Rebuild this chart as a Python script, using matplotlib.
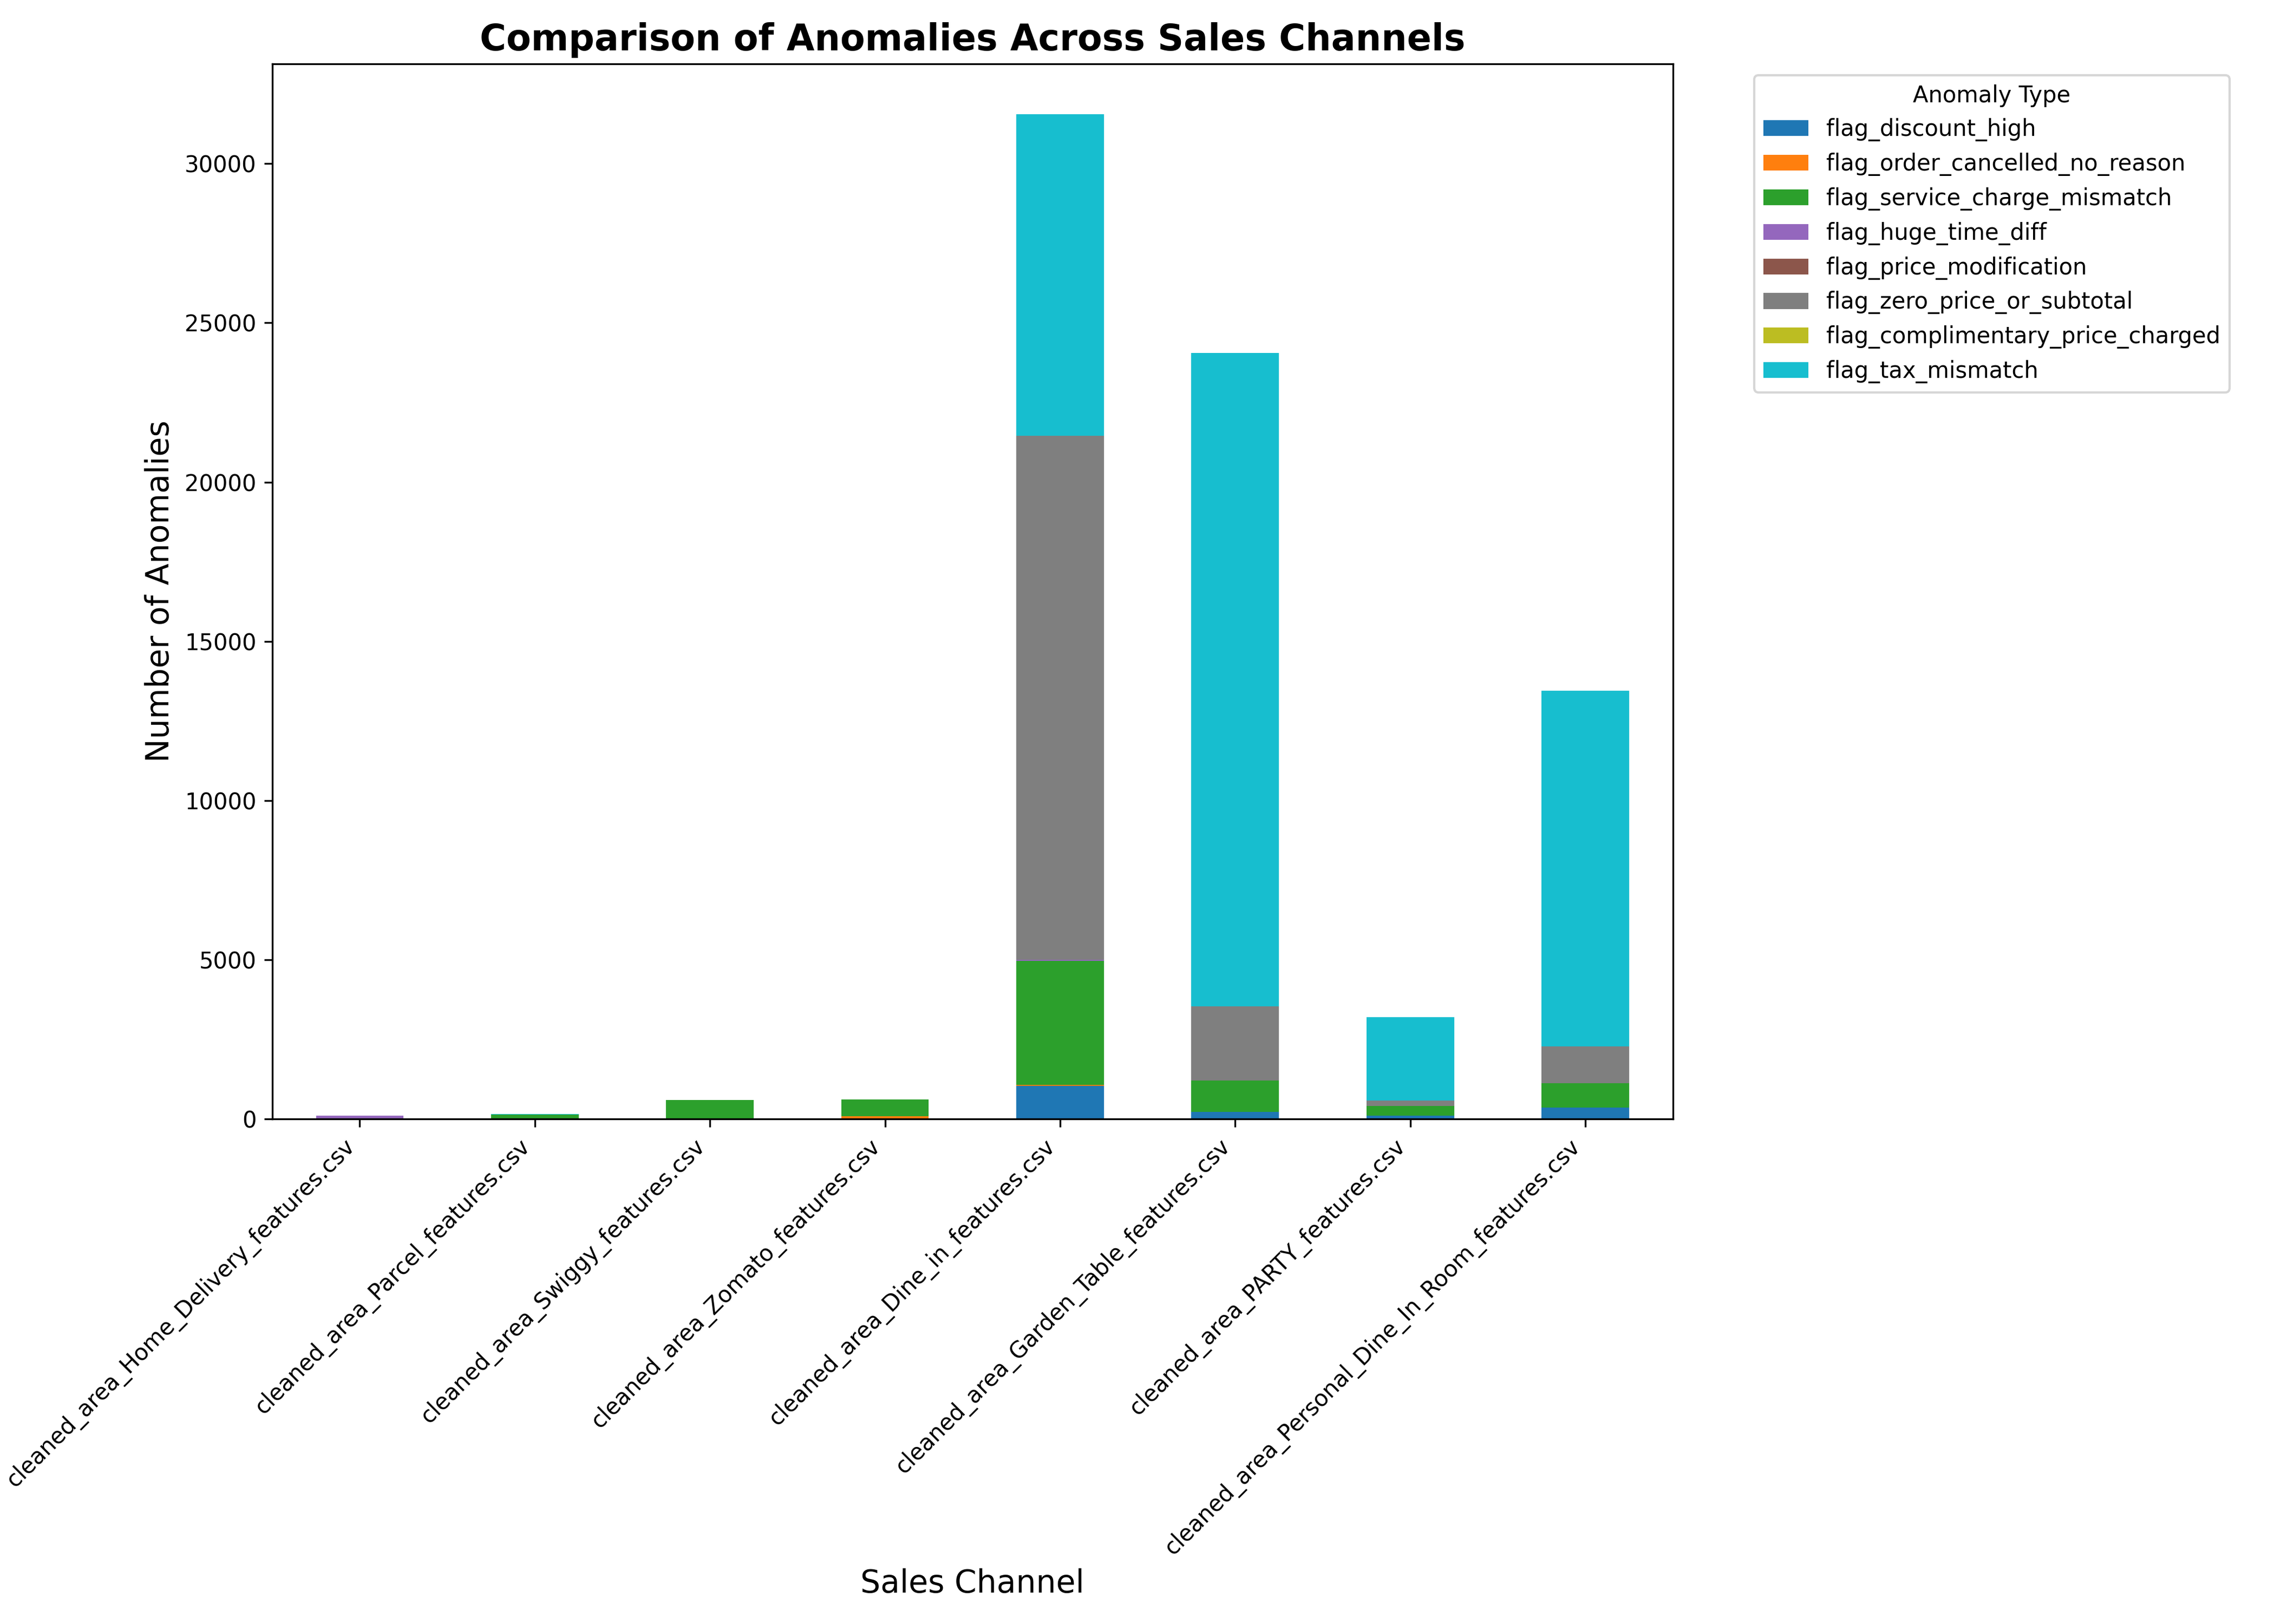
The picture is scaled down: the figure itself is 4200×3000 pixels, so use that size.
import matplotlib
matplotlib.use("Agg")
import matplotlib.pyplot as plt
import pandas as pd

# anomaly counts per sales channel
channels = [
    "cleaned_area_Home_Delivery_features.csv",
    "cleaned_area_Parcel_features.csv",
    "cleaned_area_Swiggy_features.csv",
    "cleaned_area_Zomato_features.csv",
    "cleaned_area_Dine_in_features.csv",
    "cleaned_area_Garden_Table_features.csv",
    "cleaned_area_PARTY_features.csv",
    "cleaned_area_Personal_Dine_In_Room_features.csv",
]

flag_discount_high = [0, 0, 0, 0, 1030, 215, 95, 350]
flag_order_cancelled_no_reason = [0, 0, 0, 80, 35, 0, 0, 0]
flag_service_charge_mismatch = [25, 135, 590, 525, 3900, 1000, 305, 780]
flag_huge_time_diff = [85, 0, 0, 0, 40, 0, 0, 0]
flag_price_modification = [0, 0, 0, 0, 0, 0, 0, 0]
flag_zero_price_or_subtotal = [0, 0, 0, 0, 16450, 2320, 170, 1140]
flag_complimentary_price_charged = [0, 0, 0, 0, 0, 0, 0, 0]
flag_tax_mismatch = [0, 11, 0, 0, 10100, 20520, 2620, 11180]

df = pd.DataFrame({
    "flag_discount_high": flag_discount_high,
    "flag_order_cancelled_no_reason": flag_order_cancelled_no_reason,
    "flag_service_charge_mismatch": flag_service_charge_mismatch,
    "flag_huge_time_diff": flag_huge_time_diff,
    "flag_price_modification": flag_price_modification,
    "flag_zero_price_or_subtotal": flag_zero_price_or_subtotal,
    "flag_complimentary_price_charged": flag_complimentary_price_charged,
    "flag_tax_mismatch": flag_tax_mismatch,
}, index=channels)

fig, ax = plt.subplots(figsize=(14, 10))
df.plot(kind="bar", stacked=True, colormap="tab10", ax=ax)

ax.set_title("Comparison of Anomalies Across Sales Channels", fontsize=16, fontweight="bold")
ax.set_xlabel("Sales Channel", fontsize=14)
ax.set_ylabel("Number of Anomalies", fontsize=14)
plt.xticks(rotation=45, ha="right")
ax.legend(title="Anomaly Type", bbox_to_anchor=(1.05, 1), loc="upper left")

plt.tight_layout()
plt.savefig("out.png", dpi=300)
